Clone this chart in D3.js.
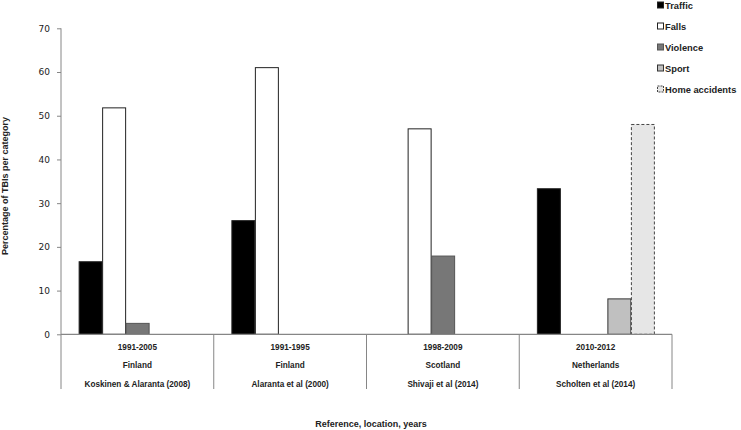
<!DOCTYPE html>
<html><head><meta charset="utf-8">
<script src="https://cdn.jsdelivr.net/npm/d3@7/dist/d3.min.js"></script>
<style>body{margin:0;background:#fff}svg{display:block}</style>
</head><body>
<script>
const years = ["1991-2005","1991-1995","1998-2009","2010-2012"];
const locations = ["Finland","Finland","Scotland","Netherlands"];
const references = ["Koskinen & Alaranta (2008)","Alaranta et al (2000)","Shivaji et al (2014)","Scholten et al (2014)"];
const seriesNames = ["Traffic","Falls","Violence","Sport","Home accidents"];
const traffic = [16.6, 26, null, 33.3];
const falls = [51.8, 61, 47, null];
const violence = [2.5, null, 17.9, null];
const sport = [null, null, null, 8.1];
const homeAccidents = [null, null, null, 48];
const yTicks = [0,10,20,30,40,50,60,70];

(function(){
const seriesValues = [traffic, falls, violence, sport, homeAccidents];
const fills = ["#000000","#ffffff","#777777","#c0c0c0","#e6e6e6"];
const strokes = ["#222","#222","#555","#333","#444"];
const dashes = [null,null,null,null,"3,2"];

const W=741,H=430;
const svg=d3.select("body").append("svg").attr("width",W).attr("height",H);
const pL=61,pR=672,pT=28.3,pB=334.3;
const x0=d3.scaleBand().domain(d3.range(4)).range([pL,pR]).paddingInner(0).paddingOuter(0);
const bw = x0.bandwidth()/(5+1.5);
const x1=d3.scaleBand().domain(d3.range(5)).range([bw*0.75, bw*0.75+bw*5]);
const y=d3.scaleLinear().domain([0,70]).range([pB,pT]);
const axisColor="#868686";

seriesValues.forEach((vals,si)=>{
  svg.append("g").selectAll("rect").data(vals.map((v,i)=>({v,i})).filter(d=>d.v!=null)).join("rect")
    .attr("x",d=>x0(d.i)+x1(si)+0.5).attr("width",x1.bandwidth()-0.5)
    .attr("y",d=>y(d.v)).attr("height",d=>pB-y(d.v))
    .attr("fill",fills[si]).attr("stroke",strokes[si]).attr("stroke-width",1)
    .attr("stroke-dasharray",dashes[si]);
});

const ya=svg.append("g").attr("transform",`translate(${pL},0)`)
  .call(d3.axisLeft(y).tickValues(yTicks).tickSize(4).tickPadding(7).tickFormat(d3.format("d")));
ya.select(".domain").remove();
ya.selectAll("line").attr("stroke",axisColor);
ya.selectAll("text").attr("font-family","DejaVu Sans").attr("font-size","9px").attr("fill","#222");
svg.append("line").attr("x1",pL).attr("x2",pL).attr("y1",pT).attr("y2",389).attr("stroke",axisColor);
svg.append("line").attr("x1",pL).attr("x2",pR).attr("y1",pB).attr("y2",pB).attr("stroke",axisColor).attr("stroke-width",1.2);
d3.range(1,5).forEach(i=>{
  const xx = i<4 ? x0(i) : pR;
  svg.append("line").attr("x1",xx).attr("x2",xx).attr("y1",pB).attr("y2",389).attr("stroke",axisColor);
});
const labelFont="'Liberation Sans', Arial, sans-serif";
[years,locations,references].forEach((arr,row)=>{
  svg.append("g").selectAll("text").data(arr).join("text")
    .attr("x",(d,i)=>x0(i)+x0.bandwidth()/2).attr("y",350+row*18.3)
    .attr("text-anchor","middle").attr("font-family",labelFont).attr("font-weight","bold")
    .attr("font-size","8.2px").attr("fill","#222").text(d=>d);
});
svg.append("text").attr("x",371).attr("y",427).attr("text-anchor","middle")
  .attr("font-family",labelFont).attr("font-weight","bold").attr("font-size","9px").attr("fill","#222")
  .text("Reference, location, years");
svg.append("text").attr("transform","translate(8,186) rotate(-90)").attr("text-anchor","middle")
  .attr("font-family",labelFont).attr("font-weight","bold").attr("font-size","9px").attr("fill","#222")
  .text("Percentage of TBIs per category");

const lg=svg.append("g").selectAll("g").data(seriesNames).join("g")
  .attr("transform",(d,i)=>`translate(657,${5+i*21})`);
lg.append("rect").attr("x",0.5).attr("y",-3).attr("width",6).attr("height",6)
  .attr("fill",(d,i)=>fills[i]).attr("stroke",(d,i)=>strokes[i]).attr("stroke-dasharray",(d,i)=>dashes[i]?"2,1":null);
lg.append("text").attr("x",8).attr("y",3.5).attr("font-family",labelFont).attr("font-weight","bold")
  .attr("font-size","9.3px").attr("fill","#222").text(d=>d);
})();
</script>
</body></html>
